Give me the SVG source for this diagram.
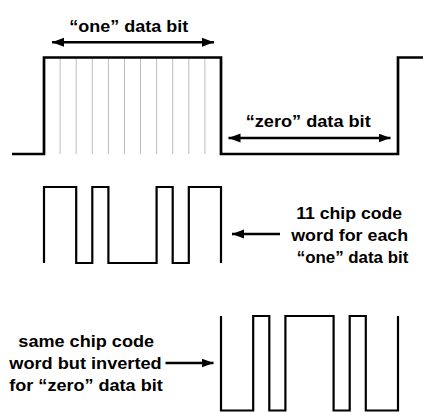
<svg xmlns="http://www.w3.org/2000/svg" width="423" height="412" viewBox="0 0 423 412">
  <defs>
    <marker id="head" markerUnits="userSpaceOnUse" markerWidth="13" markerHeight="10" refX="12" refY="4.5" orient="auto-start-reverse">
      <path d="M0,0 L12,4.5 L0,9 Z" fill="#000"/>
    </marker>
    <style>
      text { font-family: "Liberation Sans", Arial, Helvetica, sans-serif; font-weight: bold; font-size: 17px; fill: #000; text-anchor: middle; }
      .wave { fill: none; stroke: #000; stroke-linejoin: miter; stroke-linecap: butt; }
      .data { stroke-width: 2.7; }
      .chip { stroke-width: 2.2; }
      .tick { stroke: #bdbdbd; stroke-width: 1; }
      .arrow { stroke: #000; stroke-width: 2.5; fill: none; }
    </style>
  </defs>
  <rect width="423" height="412" fill="#fff"/>

  <!-- data signal: a "one" bit followed by a "zero" bit -->
  <g id="data-signal">
    <g id="chip-ticks">
      <line class="tick" x1="60.1" y1="58" x2="60.1" y2="154"/>
      <line class="tick" x1="76.2" y1="58" x2="76.2" y2="154"/>
      <line class="tick" x1="92.3" y1="58" x2="92.3" y2="154"/>
      <line class="tick" x1="108.4" y1="58" x2="108.4" y2="154"/>
      <line class="tick" x1="124.5" y1="58" x2="124.5" y2="154"/>
      <line class="tick" x1="140.5" y1="58" x2="140.5" y2="154"/>
      <line class="tick" x1="156.6" y1="58" x2="156.6" y2="154"/>
      <line class="tick" x1="172.7" y1="58" x2="172.7" y2="154"/>
      <line class="tick" x1="188.8" y1="58" x2="188.8" y2="154"/>
      <line class="tick" x1="204.9" y1="58" x2="204.9" y2="154"/>
    </g>
    <path class="wave data" d="M12,154 H44 V57.5 H221 V154 H398 V57.5 H423"/>
  </g>

  <!-- 11-chip code word sent for a "one" -->
  <g id="code-one">
    <path class="wave chip" d="M44,263 V187 H76.2 V263 H92.3 V187 H108.4 V263 H156.6 V187 H172.7 V263 H188.8 V187 H221 V263"/>
  </g>

  <!-- inverted code word sent for a "zero" -->
  <g id="code-zero">
    <path class="wave chip" d="M221,316 V410.5 H253.2 V316 H269.3 V410.5 H285.4 V316 H333.6 V410.5 H349.7 V316 H365.8 V410.5 H398 V316"/>
  </g>

  <g id="label-one-bit">
    <text x="128.8" y="31.5" textLength="119" lengthAdjust="spacingAndGlyphs">“one” data bit</text>
  </g>

  <g id="label-zero-bit">
    <text x="308.2" y="127.3" textLength="125" lengthAdjust="spacingAndGlyphs">“zero” data bit</text>
  </g>

  <g id="label-code-one">
    <text x="349.2" y="219" textLength="106" lengthAdjust="spacingAndGlyphs">11 chip code</text>
    <text x="349.7" y="241" textLength="117" lengthAdjust="spacingAndGlyphs">word for each</text>
    <text x="352.5" y="263" textLength="111.6" lengthAdjust="spacingAndGlyphs">“one” data bit</text>
  </g>

  <g id="label-code-zero">
    <text x="86.2" y="346.7" textLength="135.7" lengthAdjust="spacingAndGlyphs">same chip code</text>
    <text x="85.5" y="368.6" textLength="152.4" lengthAdjust="spacingAndGlyphs">word but inverted</text>
    <text x="86" y="390.6" textLength="153.4" lengthAdjust="spacingAndGlyphs">for “zero” data bit</text>
  </g>

  <g id="connectors">
    <line class="arrow" x1="52" y1="42.3" x2="214" y2="42.3" marker-start="url(#head)" marker-end="url(#head)"/>
    <line class="arrow" x1="228.5" y1="138" x2="390.5" y2="138" marker-start="url(#head)" marker-end="url(#head)"/>
    <line class="arrow" x1="280" y1="234" x2="232" y2="234" marker-end="url(#head)"/>
    <line class="arrow" x1="165.5" y1="363" x2="213.5" y2="363" marker-end="url(#head)"/>
  </g>
</svg>
